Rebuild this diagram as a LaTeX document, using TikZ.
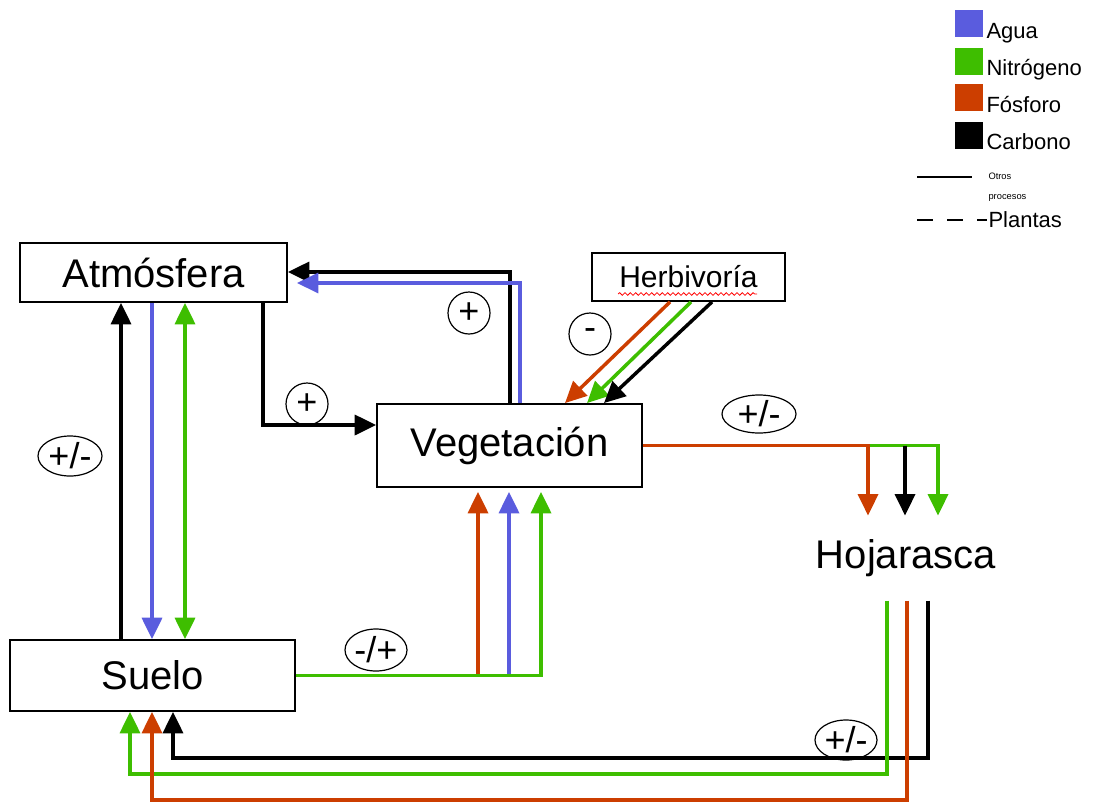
\documentclass[tikz,border=0pt]{standalone}
\usepackage{fontspec}
\setmainfont{Liberation Sans}
\usetikzlibrary{arrows.meta,shapes.geometric,decorations.pathmorphing}

\definecolor{agua}{RGB}{90,92,222}
\definecolor{nitro}{RGB}{62,190,0}
\definecolor{fosforo}{RGB}{204,62,0}

\tikzset{every picture/.style={line width=0.75pt}}
\tikzset{
  caja/.style={draw,line width=1.4pt,inner sep=0pt,font=\fontsize{30}{30}\selectfont},
  flujo/.style={line width=2.6pt,-{Triangle[width=15pt,length=16pt]}},
  flujodos/.style={line width=2.6pt,{Triangle[width=15pt,length=16pt]}-{Triangle[width=15pt,length=16pt]}},
  signo/.style={draw,ellipse,line width=0.9pt,inner sep=0pt,font=\fontsize{27}{27}\selectfont},
  leyenda/.style={anchor=base west,inner sep=0pt,font=\fontsize{16.5}{16.5}\selectfont},
}

\begin{document}
\begin{tikzpicture}[x=0.75pt,y=0.75pt,yscale=-1,xscale=1]
\useasboundingbox (0,0) rectangle (1098,803);

%Shape: Rectangle [id:atm]
\node[caja,minimum width=200.25pt,minimum height=44.25pt] (atm) at (153.5,272.5) {Atmósfera};
%Shape: Rectangle [id:veg]
\node[caja,minimum width=198.75pt,minimum height=62.25pt] (veg) at (509.5,445.5) {Vegetación};
%Shape: Rectangle [id:herb]
\node[caja,minimum width=144.75pt,minimum height=36pt,font=\fontsize{22.5}{22.5}\selectfont] (herb) at (688.5,277) {Herbivoría};
\draw[red,line width=0.6pt,decorate,decoration={snake,amplitude=1pt,segment length=4pt}] (618,294) -- (757,294);
%Shape: Rectangle [id:suelo]
\node[caja,minimum width=213.75pt,minimum height=53.25pt] (suelo) at (152.5,675.5) {Suelo};
% Text Node
\node[inner sep=0pt,minimum height=63pt,font=\fontsize{30}{30}\selectfont] (hoj) at (906,558) {Hojarasca};

%Straight Lines: vegetacion -> atmosfera
\coordinate (atmB) at (297,283);
\draw[flujo] (veg.north -| 510,0) |- (atm.east |- 0,272);
\draw[flujo,agua] (veg.north -| 520,0) |- (atmB);
%Straight Lines: atmosfera -> vegetacion
\draw[flujo] (atm.south -| 263,0) |- (veg.west |- 0,425);

%Straight Lines: herbivoria -> vegetacion
\draw[flujo,fosforo] (herb.south -| 670,0) -- (veg.north -| 565,0);
\draw[flujo,nitro] (herb.south -| 691,0) -- (veg.north -| 587,0);
\draw[flujo] (herb.south -| 712,0) -- (veg.north -| 604,0);

%Straight Lines: vegetacion -> hojarasca
\draw[flujo,nitro] (veg.east -| 868,0) -| (hoj.north -| 938,0);
\draw[flujo,fosforo] (veg.east) -| (hoj.north -| 868,0);
\draw[flujo] (veg.east -| 905,0) -- (hoj.north -| 905,0);

%Straight Lines: hojarasca -> suelo
\draw[flujo] (hoj.south -| 928,0) |- (173,758) -- (suelo.south -| 173,0);
\draw[flujo,nitro] (hoj.south -| 887,0) |- (130,774) -- (suelo.south -| 130,0);
\draw[flujo,fosforo] (hoj.south -| 907,0) |- (152,800) -- (suelo.south -| 152,0);

%Straight Lines: suelo <-> atmosfera
\draw[flujo] (suelo.north -| 121,0) -- (atm.south -| 121,0);
\draw[flujo,agua] (atm.south -| 152,0) -- (suelo.north -| 152,0);
\draw[flujodos,nitro] (atm.south -| 185,0) -- (suelo.north -| 185,0);

%Straight Lines: suelo -> vegetacion
\draw[flujo,fosforo,shorten >=3pt] (suelo.east -| 478,0) -- (veg.south -| 478,0);
\draw[flujo,agua,shorten >=3pt] (suelo.east -| 509,0) -- (veg.south -| 509,0);
\draw[flujo,nitro,shorten >=3pt] (suelo.east) -| (veg.south -| 541,0);

%Shape: Ellipse (signos)
\node[signo,minimum width=31.5pt,minimum height=31.5pt] (sA) at (469,313) {+};
\node[signo,minimum width=31.5pt,minimum height=31.5pt] (sB) at (307,404) {+};
\node[signo,minimum width=31.5pt,minimum height=31.5pt] (sC) at (590,334) {-};
\node[signo,minimum width=55.5pt,minimum height=28.5pt] (sD) at (759,414) {+/-};
\node[signo,minimum width=48pt,minimum height=30pt] (sE) at (70,456) {+/-};
\node[signo,minimum width=46.5pt,minimum height=31.5pt] (sF) at (376,650) {-/+};
\node[signo,minimum width=46.5pt,minimum height=30pt] (sG) at (846,740) {+/-};

%Shape: Square (leyenda)
\fill[agua] (955,10) rectangle (983,37);
\fill[nitro] (955,48) rectangle (983,75);
\fill[fosforo] (955,84) rectangle (983,111);
\fill[black] (955,122) rectangle (983,149);
% Text Node
\node[leyenda] (lAgua) at (986,38) {Agua};
\node[leyenda] (lNitro) at (986,75) {Nitrógeno};
\node[leyenda] (lFosforo) at (986,112) {Fósforo};
\node[leyenda] (lCarbono) at (986,149) {Carbono};
%Straight Lines (leyenda)
\draw[line width=2.2pt] (917,177) -- (972,177);
\draw[line width=2.2pt,dash pattern=on 12pt off 10.5pt] (917,220) -- (987,220);
\node[anchor=west,inner sep=0pt,font=\fontsize{7}{7}\selectfont] (lOtros) at (988,176) {Otros};
\node[anchor=west,inner sep=0pt,font=\fontsize{7}{7}\selectfont] (lProc) at (988,198) {procesos};
\node[leyenda] (lPlantas) at (988,227) {Plantas};

\end{tikzpicture}
\end{document}
